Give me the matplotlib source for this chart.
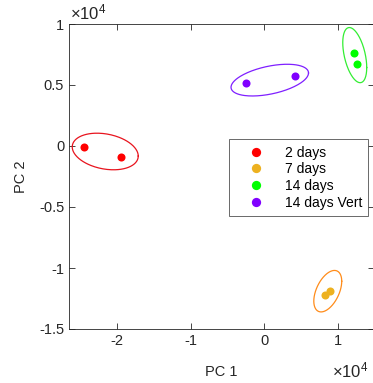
import numpy as np
import matplotlib
matplotlib.use("Agg")
import matplotlib.pyplot as plt

plt.rcParams["font.family"] = ["Liberation Sans", "DejaVu Sans"]
plt.rcParams["mathtext.fontset"] = "custom"
plt.rcParams["mathtext.rm"] = "Liberation Sans"
plt.rcParams["mathtext.it"] = "Liberation Sans"

# groups and PCA scores (units of 1e4)
groups = ["2 days", "7 days", "14 days", "14 days Vert"]
dot_colors = ["#FF0000", "#EDB120", "#00FF00", "#8000FF"]
ell_colors = ["#E8141E", "#FF8C1A", "#33EE33", "#7F1FFF"]

pc1 = [[-2.45, -1.94], [0.83, 0.895], [1.23, 1.27], [-0.25, 0.42]]
pc2 = [[-0.005, -0.087], [-1.22, -1.185], [0.765, 0.675], [0.52, 0.574]]

# confidence ellipses: centre, half-extent in x / y, phase (cos delta)
ell_cx = [-2.16, 0.867, 1.234, 0.078]
ell_cy = [-0.045, -1.19, 0.745, 0.540]
ell_ax = [0.449, 0.19, 0.163, 0.527]
ell_ay = [0.150, 0.170, 0.226, 0.130]
ell_cosd = [-0.25, 0.48, -0.45, 0.45]

xticks = [-2, -1, 0, 1]
yticks = [-1.5, -1, -0.5, 0, 0.5, 1]

fig = plt.figure(figsize=(3.73, 3.83), dpi=100)
ax = fig.add_axes([69 / 373, 54 / 383, 305.3 / 373, 305 / 383])

t = np.linspace(0, 2 * np.pi, 200)
for i, g in enumerate(groups):
    d = np.arccos(ell_cosd[i])
    ex = ell_cx[i] + ell_ax[i] * np.cos(t)
    ey = ell_cy[i] + ell_ay[i] * np.cos(t - d)
    ax.plot(ex, ey, color=ell_colors[i], lw=0.9)
    ax.plot(pc1[i], pc2[i], "o", color=dot_colors[i], ms=5.8,
            mec="none", label=g)

ax.set_xlim(-2.653, 1.5)
ax.set_ylim(-1.5, 1)
ax.set_xticks(xticks)
ax.set_yticks(yticks)
ax.set_xticklabels([f"{v:g}" for v in xticks])
ax.set_yticklabels([f"{v:g}" for v in yticks])
ax.tick_params(direction="in", length=4, width=0.6, colors="#262626",
               labelsize=10.5, top=True, right=True)
for s in ax.spines.values():
    s.set_color("#262626")
    s.set_linewidth(0.6)

ax.set_xlabel("PC 1", fontsize=10.5, color="#262626", labelpad=12)
ax.set_ylabel("PC 2", fontsize=10.5, color="#262626", labelpad=8)

fig.text(70 / 373, 1 - 19 / 383, r"$\times10^4$", fontsize=12,
         color="#262626", ha="left", va="baseline")
fig.text(332 / 373, 1 - 377 / 383, r"$\times10^4$", fontsize=12,
         color="#262626", ha="left", va="baseline")

leg = ax.legend(loc="upper left",
                bbox_to_anchor=((229.3 - 69) / 305.3, (329 - 139.3) / 305),
                fontsize=10, frameon=True, fancybox=False, edgecolor="#262626",
                borderpad=0.45, labelspacing=0.2, handletextpad=0.55,
                handlelength=3.0, borderaxespad=0, markerscale=1.15)
leg.get_frame().set_linewidth(0.6)

fig.savefig("out.png", dpi=100)
